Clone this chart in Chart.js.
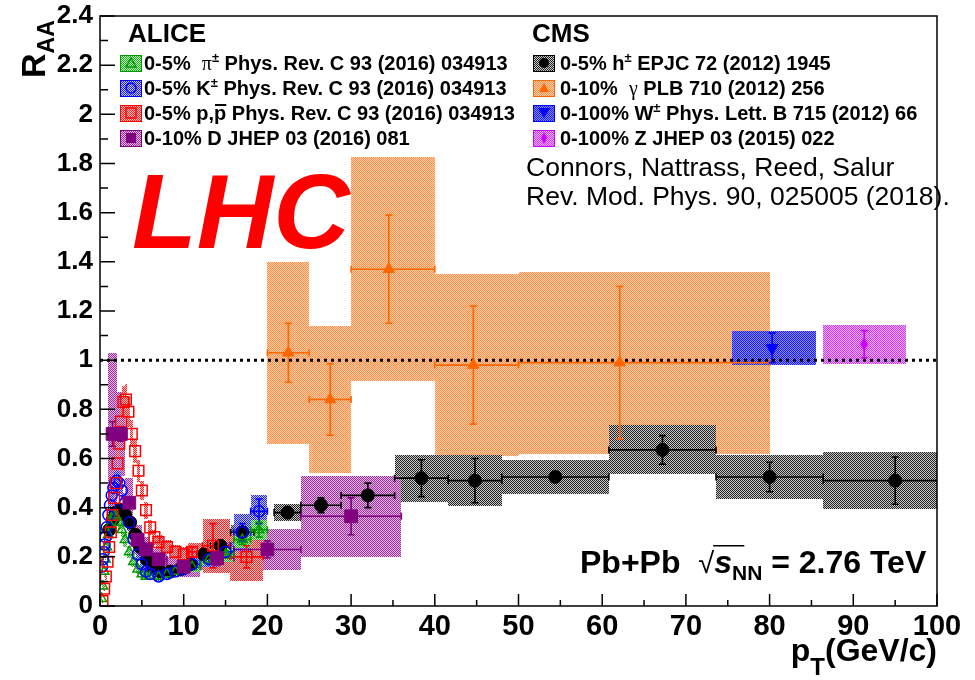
<!DOCTYPE html>
<html>
<head>
<meta charset="utf-8">
<script src="https://cdn.jsdelivr.net/npm/chart.js@4.4.1/dist/chart.umd.min.js"></script>
<style>
  html, body { margin: 0; padding: 0; background: #fff; }
  canvas { display: block; }
</style>
</head>
<body>
<canvas id="raa" width="975" height="680"></canvas>
<script>
// ---- ALICE identified hadrons, 0-5% (pT in GeV/c, R_AA) ----
const piPt   = [0.2, 0.35, 0.5, 0.65, 0.8, 1.0, 1.2, 1.4, 1.6, 1.8, 2.0, 2.3, 2.6, 3.0, 3.5, 4.0, 4.5, 5.0, 5.5, 6.0, 7.0, 8.0, 9.0, 10.0, 11.0, 13.0, 15.0, 17.0, 19.0];
const piR    = [0.03, 0.08, 0.14, 0.19, 0.24, 0.29, 0.33, 0.36, 0.37, 0.37, 0.36, 0.34, 0.31, 0.27, 0.22, 0.18, 0.15, 0.13, 0.12, 0.12, 0.12, 0.13, 0.14, 0.15, 0.16, 0.19, 0.21, 0.27, 0.31];
const piStat = [0, 0, 0, 0, 0, 0, 0, 0, 0, 0, 0, 0, 0, 0, 0, 0, 0, 0, 0, 0, 0, 0, 0, 0, 0, 0.01, 0.015, 0.02, 0.03];
const piSys  = [0.01, 0.015, 0.02, 0.025, 0.03, 0.03, 0.035, 0.035, 0.035, 0.035, 0.035, 0.03, 0.03, 0.03, 0.025, 0.02, 0.02, 0.015, 0.015, 0.015, 0.015, 0.015, 0.015, 0.02, 0.02, 0.025, 0.03, 0.035, 0.04];

const kPt    = [0.25, 0.35, 0.45, 0.55, 0.65, 0.8, 1.0, 1.2, 1.4, 1.6, 1.8, 2.0, 2.3, 2.6, 3.0, 3.5, 4.0, 4.5, 5.0, 5.5, 6.0, 7.0, 8.0, 9.0, 10.0, 11.0, 13.0, 15.0, 17.0, 19.0];
const kR     = [0.16, 0.19, 0.22, 0.25, 0.28, 0.32, 0.37, 0.41, 0.45, 0.48, 0.50, 0.51, 0.50, 0.47, 0.42, 0.34, 0.27, 0.21, 0.17, 0.14, 0.13, 0.12, 0.13, 0.14, 0.15, 0.17, 0.19, 0.22, 0.30, 0.385];
const kStat  = [0, 0, 0, 0, 0, 0, 0, 0, 0, 0, 0, 0, 0, 0, 0, 0, 0, 0, 0, 0, 0, 0, 0, 0, 0, 0.01, 0.015, 0.02, 0.035, 0.05];
const kSys   = [0.02, 0.02, 0.025, 0.025, 0.03, 0.03, 0.035, 0.04, 0.04, 0.045, 0.045, 0.045, 0.045, 0.04, 0.04, 0.035, 0.03, 0.025, 0.02, 0.02, 0.02, 0.02, 0.02, 0.02, 0.02, 0.025, 0.03, 0.04, 0.075, 0.065];

const pPt    = [0.3, 0.5, 0.7, 0.9, 1.1, 1.3, 1.5, 1.7, 1.9, 2.1, 2.3, 2.5, 2.8, 3.1, 3.4, 3.8, 4.2, 4.6, 5.0, 5.5, 6.0, 6.5, 7.0, 8.0, 9.0, 10.0, 11.0, 13.5, 17.5];
const pR     = [0.02, 0.07, 0.12, 0.18, 0.24, 0.30, 0.37, 0.44, 0.50, 0.58, 0.66, 0.75, 0.83, 0.84, 0.79, 0.70, 0.63, 0.55, 0.47, 0.39, 0.32, 0.28, 0.26, 0.24, 0.22, 0.21, 0.22, 0.245, 0.20];
const pStat  = [0, 0, 0, 0, 0, 0, 0, 0, 0, 0, 0, 0, 0, 0, 0, 0, 0, 0, 0, 0, 0, 0, 0, 0, 0, 0.01, 0.02, 0.09, 0.045];
const pSys   = [0.01, 0.01, 0.015, 0.02, 0.025, 0.03, 0.035, 0.04, 0.045, 0.05, 0.055, 0.06, 0.065, 0.065, 0.06, 0.055, 0.05, 0.045, 0.04, 0.035, 0.03, 0.03, 0.03, 0.03, 0.03, 0.03, 0.035, 0.11, 0.10];

// ---- ALICE D mesons, 0-10% ----
const dPt    = [1.5, 2.5, 3.5, 4.5, 5.5, 7.0, 10.0, 14.0, 20.0, 30.0];
const dR     = [0.70, 0.70, 0.42, 0.27, 0.23, 0.19, 0.16, 0.195, 0.23, 0.365];
const dLo    = [1, 2, 3, 4, 5, 6, 8, 12, 16, 24];
const dHi    = [2, 3, 4, 5, 6, 8, 12, 16, 24, 36];
const dStat  = [0.05, 0.03, 0.02, 0.02, 0.02, 0.02, 0.02, 0.03, 0.035, 0.075];
const dSys   = [0.33, 0.17, 0.10, 0.06, 0.05, 0.04, 0.04, 0.05, 0.082, 0.165];

// ---- CMS charged hadrons, 0-5% ----
const cmsPt   = [1.1, 1.5, 1.9, 2.4, 3.0, 3.6, 4.2, 4.8, 5.6, 6.4, 7.2, 8.4, 9.6, 10.8, 12.4, 14.4, 17.0, 22.4, 26.4, 32.0, 38.4, 44.8, 54.4, 67.2, 80.0, 95.0];
const cmsR    = [0.31, 0.35, 0.38, 0.39, 0.37, 0.34, 0.29, 0.24, 0.19, 0.155, 0.14, 0.14, 0.15, 0.17, 0.21, 0.245, 0.30, 0.38, 0.41, 0.45, 0.52, 0.51, 0.525, 0.635, 0.525, 0.51];
const cmsLo   = [1.0, 1.3, 1.7, 2.1, 2.7, 3.3, 3.9, 4.5, 5.2, 6.0, 6.8, 7.8, 9.0, 10.2, 11.6, 13.2, 15.6, 20.8, 24.0, 28.8, 35.2, 41.6, 48.0, 60.8, 73.6, 86.4];
const cmsHi   = [1.3, 1.7, 2.1, 2.7, 3.3, 3.9, 4.5, 5.2, 6.0, 6.8, 7.8, 9.0, 10.2, 11.6, 13.2, 15.6, 18.4, 24.0, 28.8, 35.2, 41.6, 48.0, 60.8, 73.6, 86.4, 103.6];
const cmsStat = [0.005, 0.005, 0.005, 0.005, 0.005, 0.005, 0.005, 0.005, 0.005, 0.005, 0.005, 0.005, 0.005, 0.005, 0.005, 0.005, 0.005, 0.02, 0.03, 0.05, 0.075, 0.09, 0.02, 0.058, 0.06, 0.096];
const cmsSys  = [0.03, 0.03, 0.03, 0.03, 0.03, 0.03, 0.025, 0.02, 0.02, 0.015, 0.015, 0.015, 0.015, 0.02, 0.02, 0.025, 0.03, 0.035, 0.04, 0.07, 0.095, 0.105, 0.07, 0.10, 0.09, 0.115];

// ---- CMS isolated photons 0-10%, W 0-100%, Z 0-100% ----
const gamPt   = [22.5, 27.5, 34.5, 44.6, 62.1];
const gamR    = [1.03, 0.84, 1.37, 0.98, 0.99];
const gamLo   = [20, 25, 30, 40, 50];
const gamHi   = [25, 30, 40, 50, 80];
const gamStat = [0.12, 0.145, 0.22, 0.24, 0.31];
const gamSys  = [0.37, 0.30, 0.455, 0.37, 0.37];

const wPt = [80.3], wR = [1.05], wLo = [75.5], wHi = [85.5], wStat = [0.06], wSys = [0.068];
const zPt = [91.3], zR = [1.065], zLo = [86.4], zHi = [96.3], zStat = [0.055], zSys = [0.08];

// ---- axes ----
const xTicks = [0, 10, 20, 30, 40, 50, 60, 70, 80, 90, 100];
const xTickLabels = ['0', '10', '20', '30', '40', '50', '60', '70', '80', '90', '100'];
const yTicks = [0, 0.2, 0.4, 0.6, 0.8, 1.0, 1.2, 1.4, 1.6, 1.8, 2.0, 2.2, 2.4];
const yTickLabels = ['0', '0.2', '0.4', '0.6', '0.8', '1', '1.2', '1.4', '1.6', '1.8', '2', '2.2', '2.4'];

const FONT = '"Liberation Sans", Arial, Helvetica, sans-serif';
const canvas = document.getElementById('raa');
const ctx0 = canvas.getContext('2d');

// ROOT-like fine dotted fill
function checker(fg, bg) {
  const c = document.createElement('canvas');
  c.width = 2; c.height = 2;
  const g = c.getContext('2d');
  g.fillStyle = bg; g.fillRect(0, 0, 2, 2);
  g.fillStyle = fg; g.fillRect(0, 0, 1, 1); g.fillRect(1, 1, 1, 1);
  return ctx0.createPattern(c, 'repeat');
}

// bin edges half way between neighbouring points
function midEdges(pt) {
  const lo = pt.map((v, i) => i > 0 ? (pt[i - 1] + v) / 2 : v - (pt[1] - v) / 2);
  const hi = pt.map((v, i) => i < pt.length - 1 ? (v + pt[i + 1]) / 2 : v + (v - pt[i - 1]) / 2);
  return { lo, hi };
}
const piE = midEdges(piPt), kE = midEdges(kPt), pE = midEdges(pPt);

const fills = {
  pi: checker('#22aa22', '#bfeebf'),
  k: checker('#2222ff', '#c4c4ff'),
  p: checker('#ff2222', '#ffc4c4'),
  d: checker('#993399', '#e2b3e2'),
  cms: checker('#222222', '#c8c8c8'),
  gam: checker('#ff8c40', '#ffcfae'),
  w: checker('#1a1aff', '#8a8aff'),
  z: checker('#cc33ff', '#ebb3ff')
};

// draw order of the uncertainty boxes
const groups = [
  { pt: gamPt, r: gamR, lo: gamLo, hi: gamHi, stat: gamStat, sys: gamSys, color: '#ff6600', fill: fills.gam, hbar: 0 },
  { pt: cmsPt, r: cmsR, lo: cmsLo, hi: cmsHi, stat: cmsStat, sys: cmsSys, color: '#000000', fill: fills.cms, hbar: 0 },
  { pt: dPt, r: dR, lo: dLo, hi: dHi, stat: dStat, sys: dSys, color: '#800080', fill: fills.d, hbar: 0 },
  { pt: pPt, r: pR, lo: pE.lo, hi: pE.hi, stat: pStat, sys: pSys, color: '#ff0000', fill: fills.p, hbar: 1.5 },
  { pt: kPt, r: kR, lo: kE.lo, hi: kE.hi, stat: kStat, sys: kSys, color: '#0000ff', fill: fills.k, hbar: 1.5 },
  { pt: piPt, r: piR, lo: piE.lo, hi: piE.hi, stat: piStat, sys: piSys, color: '#009900', fill: fills.pi, hbar: 1.5 },
  { pt: wPt, r: wR, lo: wLo, hi: wHi, stat: wStat, sys: wSys, color: '#0000ff', fill: fills.w, hbar: -1 },
  { pt: zPt, r: zR, lo: zLo, hi: zHi, stat: zStat, sys: zSys, color: '#cc00ff', fill: fills.z, hbar: -1 }
];

// thin vertical diamond for Z
const zMark = (() => {
  const c = document.createElement('canvas');
  c.width = 8; c.height = 13;
  const g = c.getContext('2d');
  g.fillStyle = '#cc00ff';
  g.beginPath(); g.moveTo(4, 0); g.lineTo(8, 6.5); g.lineTo(4, 13); g.lineTo(0, 6.5); g.closePath(); g.fill();
  return c;
})();

const xy = (xs, ys) => xs.map((v, i) => ({ x: v, y: ys[i] }));

function drawRuns(ctx, x, y, runs) {
  let cx = x;
  runs.forEach(r => {
    ctx.font = r.f;
    const dy = r.dy || 0;
    ctx.fillText(r.t, cx, y + dy);
    const w = ctx.measureText(r.t).width;
    if (r.over) ctx.fillRect(cx + 1, y + dy - r.over, w - 1, 2);
    cx += w;
  });
  return cx;
}
function runsWidth(ctx, runs) {
  return runs.reduce((s, r) => { ctx.font = r.f; return s + ctx.measureText(r.t).width; }, 0);
}
const B = (t, s = 20) => ({ t, f: `bold ${s}px ${FONT}` });
const SYM = (t, s = 20) => ({ t, f: `${s}px "Liberation Serif", serif` });
const SUP = (t) => ({ t, f: `bold 13px ${FONT}`, dy: -8 });

function legendMark(ctx, cx, cy, kind, color, fill) {
  ctx.fillStyle = fill;
  ctx.fillRect(cx - 11, cy - 8, 22, 17);
  ctx.strokeStyle = color; ctx.lineWidth = 1;
  ctx.strokeRect(cx - 10.5, cy - 7.5, 21, 16);
  ctx.fillStyle = color; ctx.lineWidth = 1.5;
  ctx.beginPath();
  if (kind === 'tri' || kind === 'otri') { ctx.moveTo(cx, cy - 5); ctx.lineTo(cx + 5, cy + 4); ctx.lineTo(cx - 5, cy + 4); ctx.closePath(); }
  else if (kind === 'dtri') { ctx.moveTo(cx, cy + 5); ctx.lineTo(cx + 6, cy - 5); ctx.lineTo(cx - 6, cy - 5); ctx.closePath(); }
  else if (kind === 'circ' || kind === 'ocirc') { ctx.arc(cx, cy, 5, 0, Math.PI * 2); }
  else if (kind === 'sq' || kind === 'osq') { ctx.rect(cx - 5, cy - 5, 10, 10); }
  else if (kind === 'dia') { ctx.moveTo(cx, cy - 6); ctx.lineTo(cx + 3, cy); ctx.lineTo(cx, cy + 6); ctx.lineTo(cx - 3, cy); ctx.closePath(); }
  if (kind.charAt(0) === 'o') ctx.stroke(); else ctx.fill();
}

const rootStyle = {
  id: 'rootStyle',
  beforeDatasetsDraw(chart) {
    const { ctx, chartArea: a, scales: { x, y } } = chart;
    ctx.save();
    ctx.beginPath(); ctx.rect(a.left, a.top, a.right - a.left, a.bottom - a.top); ctx.clip();
    // systematic boxes
    groups.forEach(g => {
      ctx.fillStyle = g.fill;
      g.pt.forEach((v, i) => {
        const x0 = Math.round(x.getPixelForValue(g.lo[i])), x1 = Math.round(x.getPixelForValue(g.hi[i]));
        const y0 = Math.round(y.getPixelForValue(g.r[i] + g.sys[i])), y1 = Math.round(y.getPixelForValue(g.r[i] - g.sys[i]));
        ctx.fillRect(x0, y0, Math.max(1, x1 - x0), y1 - y0);
      });
    });
    // statistical bars and bin widths
    groups.forEach(g => {
      ctx.strokeStyle = g.color; ctx.lineWidth = 1.6;
      g.pt.forEach((v, i) => {
        const px = x.getPixelForValue(v), py = y.getPixelForValue(g.r[i]);
        ctx.beginPath();
        if (g.stat[i] > 0.012) {
          const t = y.getPixelForValue(g.r[i] + g.stat[i]), b = y.getPixelForValue(g.r[i] - g.stat[i]);
          ctx.moveTo(px, t); ctx.lineTo(px, b);
          ctx.moveTo(px - 3.5, t); ctx.lineTo(px + 3.5, t);
          ctx.moveTo(px - 3.5, b); ctx.lineTo(px + 3.5, b);
        }
        if (g.hbar >= 0 && g.hi[i] - g.lo[i] >= g.hbar) {
          const l = x.getPixelForValue(g.lo[i]), r = x.getPixelForValue(g.hi[i]);
          ctx.moveTo(l, py); ctx.lineTo(r, py);
          ctx.moveTo(l, py - 3.5); ctx.lineTo(l, py + 3.5);
          ctx.moveTo(r, py - 3.5); ctx.lineTo(r, py + 3.5);
        }
        ctx.stroke();
      });
    });
    ctx.restore();
  },
  afterDraw(chart) {
    const { ctx, chartArea: a, scales: { x, y } } = chart;
    ctx.save();
    // frame and ticks
    ctx.strokeStyle = '#000'; ctx.lineWidth = 1.5;
    ctx.strokeRect(a.left, a.top, a.right - a.left, a.bottom - a.top);
    ctx.beginPath();
    yTicks.forEach((v, i) => {
      const py = y.getPixelForValue(v);
      ctx.moveTo(a.left, py); ctx.lineTo(a.left + 15, py);
      if (i < yTicks.length - 1) {
        const pm = y.getPixelForValue((v + yTicks[i + 1]) / 2);
        ctx.moveTo(a.left, pm); ctx.lineTo(a.left + 8, pm);
      }
    });
    xTicks.forEach((v, i) => {
      const px = x.getPixelForValue(v);
      ctx.moveTo(px, a.bottom); ctx.lineTo(px, a.bottom - 12);
      if (i < xTicks.length - 1) {
        const pm = x.getPixelForValue((v + xTicks[i + 1]) / 2);
        ctx.moveTo(pm, a.bottom); ctx.lineTo(pm, a.bottom - 6);
      }
    });
    ctx.stroke();

    // tick labels
    ctx.fillStyle = '#000';
    ctx.font = `bold 26px ${FONT}`;
    ctx.textAlign = 'right'; ctx.textBaseline = 'middle';
    yTicks.forEach((v, i) => ctx.fillText(yTickLabels[i], a.left - 7, y.getPixelForValue(v)));
    ctx.font = `bold 29px ${FONT}`;
    ctx.textAlign = 'center'; ctx.textBaseline = 'top';
    xTicks.forEach((v, i) => ctx.fillText(xTickLabels[i], x.getPixelForValue(v), a.bottom + 6));

    ctx.textAlign = 'left'; ctx.textBaseline = 'alphabetic';
    // x title
    const xt = [B('p', 32), { t: 'T', f: `bold 24px ${FONT}`, dy: 14 }, B('(GeV/c)', 32)];
    drawRuns(ctx, a.right - runsWidth(ctx, xt), 661, xt);
    // y title
    ctx.save();
    ctx.translate(45, 78); ctx.rotate(-Math.PI / 2);
    drawRuns(ctx, 0, 0, [B('R', 34), { t: 'AA', f: `bold 23px ${FONT}`, dy: 9 }]);
    ctx.restore();

    // LHC
    ctx.fillStyle = '#ff0000';
    ctx.font = `italic bold 106px ${FONT}`;
    ctx.fillText('LHC', 132, 248);

    // legend
    ctx.fillStyle = '#000';
    ctx.font = `bold 26px ${FONT}`;
    ctx.fillText('ALICE', 128, 42);
    ctx.fillText('CMS', 532, 42);
    const rows = [63, 88, 113, 138];
    const alice = [
      ['otri', '#009900', fills.pi, [B('0-5%  '), SYM('\u03c0'), SUP('\u00b1'), B(' Phys. Rev. C 93 (2016) 034913')]],
      ['ocirc', '#0000ff', fills.k, [B('0-5% K'), SUP('\u00b1'), B(' Phys. Rev. C 93 (2016) 034913')]],
      ['osq', '#ff0000', fills.p, [B('0-5% p,'), { t: 'p', f: `bold 20px ${FONT}`, over: 16 }, B(' Phys. Rev. C 93 (2016) 034913')]],
      ['sq', '#800080', fills.d, [B('0-10% D JHEP 03 (2016) 081')]]
    ];
    const cms = [
      ['circ', '#000000', fills.cms, [B('0-5% h'), SUP('\u00b1'), B(' EPJC 72 (2012) 1945')]],
      ['tri', '#ff6600', fills.gam, [B('0-10%  '), SYM('\u03b3'), B(' PLB 710 (2012) 256')]],
      ['dtri', '#0000ff', fills.w, [B('0-100% W'), SUP('\u00b1'), B(' Phys. Lett. B 715 (2012) 66')]],
      ['dia', '#cc00ff', fills.z, [B('0-100% Z JHEP 03 (2015) 022')]]
    ];
    alice.forEach((e, i) => {
      legendMark(ctx, 131, rows[i], e[0], e[1], e[2]);
      ctx.fillStyle = '#000';
      drawRuns(ctx, 144, rows[i] + 7, e[3]);
    });
    cms.forEach((e, i) => {
      legendMark(ctx, 544, rows[i], e[0], e[1], e[2]);
      ctx.fillStyle = '#000';
      drawRuns(ctx, 560, rows[i] + 7, e[3]);
    });

    ctx.font = `26.5px ${FONT}`;
    ctx.fillText('Connors, Nattrass, Reed, Salur', 526, 176);
    ctx.fillText('Rev. Mod. Phys. 90, 025005 (2018).', 526, 205);

    // collision system
    const s0 = drawRuns(ctx, 580, 573, [B('Pb+Pb  ', 32), { t: '\u221a', f: `29px ${FONT}` }]);
    const s1 = drawRuns(ctx, s0, 573, [{ t: 's', f: `italic bold 32px ${FONT}` }, { t: 'NN', f: `bold 21px ${FONT}`, dy: 7 }]);
    ctx.fillRect(s0 - 1, 545, s1 - s0 - 17, 1.5);
    drawRuns(ctx, s1, 573, [B(' = 2.76 TeV', 32)]);
    ctx.restore();
  }
};

new Chart(canvas, {
  type: 'scatter',
  data: {
    datasets: [
      { label: 'unity', data: [{ x: 0, y: 1 }, { x: 100, y: 1 }], showLine: true, borderColor: '#000', borderWidth: 3, borderDash: [3, 4], pointRadius: 0, order: 10 },
      { label: 'gamma', data: xy(gamPt, gamR), pointStyle: 'triangle', radius: 6.5, backgroundColor: '#ff6600', borderColor: '#ff6600', borderWidth: 1, order: 9 },
      { label: 'h', data: xy(cmsPt, cmsR), pointStyle: 'circle', radius: 6.5, backgroundColor: '#000', borderColor: '#000', borderWidth: 1, order: 8 },
      { label: 'pi', data: xy(piPt, piR), pointStyle: 'triangle', radius: 5.5, backgroundColor: 'rgba(0,0,0,0)', borderColor: '#009900', borderWidth: 1.5, order: 7 },
      { label: 'K', data: xy(kPt, kR), pointStyle: 'circle', radius: 5.5, backgroundColor: 'rgba(0,0,0,0)', borderColor: '#0000ff', borderWidth: 1.5, order: 6 },
      { label: 'p', data: xy(pPt, pR), pointStyle: 'rect', radius: 7.5, backgroundColor: 'rgba(0,0,0,0)', borderColor: '#ff0000', borderWidth: 1.5, order: 5 },
      { label: 'D', data: xy(dPt, dR), pointStyle: 'rect', radius: 9, backgroundColor: '#800080', borderColor: '#800080', borderWidth: 1, order: 4 },
      { label: 'W', data: xy(wPt, wR), pointStyle: 'triangle', rotation: 180, radius: 7, backgroundColor: '#0000ff', borderColor: '#0000ff', borderWidth: 1, order: 3 },
      { label: 'Z', data: xy(zPt, zR), pointStyle: zMark, order: 2 }
    ]
  },
  options: {
    responsive: false,
    animation: false,
    devicePixelRatio: 1,
    layout: { padding: { left: 100, right: 38, top: 16, bottom: 74 } },
    scales: {
      x: { type: 'linear', min: 0, max: 100, display: false },
      y: { type: 'linear', min: 0, max: 2.4, display: false }
    },
    plugins: { legend: { display: false }, tooltip: { enabled: false }, title: { display: false } }
  },
  plugins: [rootStyle]
});
</script>
</body>
</html>
